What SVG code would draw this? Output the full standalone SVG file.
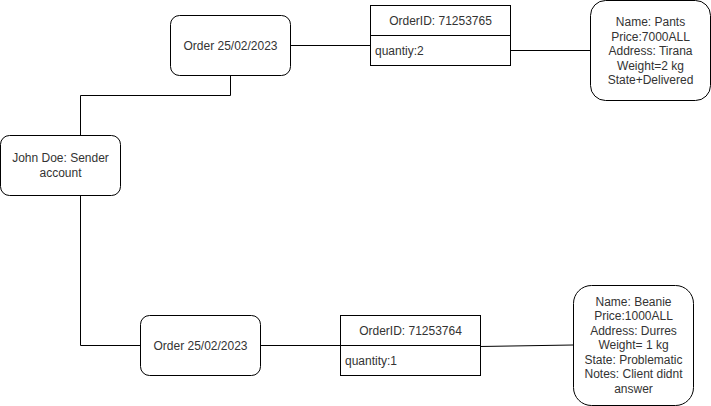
<svg xmlns="http://www.w3.org/2000/svg" width="711" height="406" viewBox="0 0 711 406">
<style>
.box{fill:#fff;stroke:#000;stroke-width:1}
.ln{fill:none;stroke:#000;stroke-width:1}
text{font-family:"Liberation Sans",Arial,sans-serif;font-size:12px;fill:#333}
.c{text-anchor:middle}
</style>
<rect width="711" height="406" fill="#fff"/>
<g id="connectors">
<path class="ln" d="M80.5 135V95.5H230.5V75"/>
<path class="ln" d="M290.5 45.5H370"/>
<path class="ln" d="M510 50.5H590"/>
<path class="ln" d="M80.5 195V345.5H140"/>
<path class="ln" d="M260 345.5H340"/>
<path class="ln" d="M480 346.5L573 345"/>
</g>
<g id="john">
<rect class="box" x="0.5" y="135.5" width="120" height="60" rx="9"/>
<text class="c" x="60.5" y="162">John Doe: Sender</text>
<text class="c" x="60.5" y="177">account</text>
</g>
<g id="order1">
<rect class="box" x="170.5" y="15.5" width="120" height="60" rx="9"/>
<text class="c" x="230.5" y="49.5">Order 25/02/2023</text>
</g>
<g id="orderid1">
<rect class="box" x="370.5" y="5.5" width="140" height="60"/>
<line class="ln" x1="370.5" y1="35.5" x2="510.5" y2="35.5"/>
<text class="c" x="440.5" y="24.5">OrderID: 71253765</text>
<text x="375" y="54.5">quantiy:2</text>
</g>
<g id="pants">
<rect class="box" x="590.5" y="0.5" width="120" height="100" rx="15"/>
<text class="c" x="650.5" y="26">Name: Pants</text>
<text class="c" x="650.5" y="40.5">Price:7000ALL</text>
<text class="c" x="650.5" y="55">Address: Tirana</text>
<text class="c" x="650.5" y="69.5">Weight=2 kg</text>
<text class="c" x="650.5" y="84">State+Delivered</text>
</g>
<g id="order2">
<rect class="box" x="140.5" y="315.5" width="120" height="60" rx="9"/>
<text class="c" x="200.5" y="349.5">Order 25/02/2023</text>
</g>
<g id="orderid2">
<rect class="box" x="340.5" y="315.5" width="140" height="60"/>
<line class="ln" x1="340.5" y1="345.5" x2="480.5" y2="345.5"/>
<text class="c" x="410.5" y="334.5">OrderID: 71253764</text>
<text x="345" y="364.5">quantity:1</text>
</g>
<g id="beanie">
<rect class="box" x="573.5" y="285.5" width="120" height="120" rx="18"/>
<text class="c" x="633.5" y="305.5">Name: Beanie</text>
<text class="c" x="633.5" y="320">Price:1000ALL</text>
<text class="c" x="633.5" y="334.5">Address: Durres</text>
<text class="c" x="633.5" y="349">Weight= 1 kg</text>
<text class="c" x="633.5" y="363.5">State: Problematic</text>
<text class="c" x="633.5" y="378">Notes: Client didnt</text>
<text class="c" x="633.5" y="392.5">answer</text>
</g>
</svg>
